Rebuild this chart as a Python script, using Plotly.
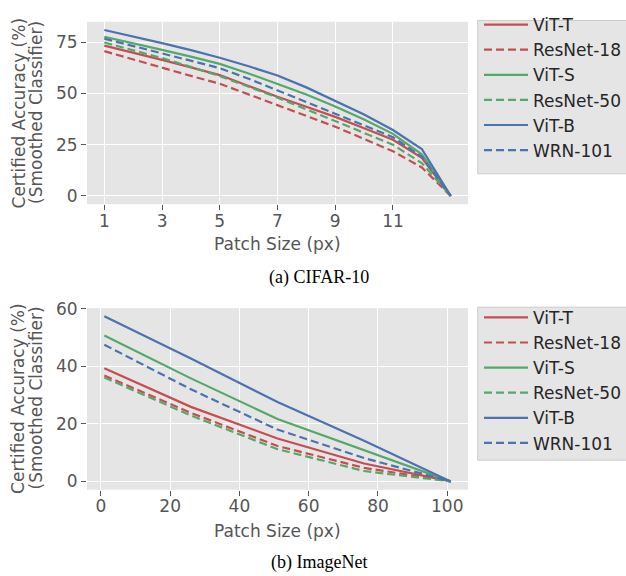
import plotly.graph_objects as go

# ---------------- data ----------------
models = ["ViT-T", "ResNet-18", "ViT-S", "ResNet-50", "ViT-B", "WRN-101"]
colors = ["#C44E52", "#C44E52", "#55A868", "#55A868", "#4C72B0", "#4C72B0"]
dashes = ["solid", "8px,4px", "solid", "8px,4px", "solid", "8px,4px"]

cifar_patch = [1, 2, 3, 4, 5, 6, 7, 8, 9, 10, 11, 12, 13]
cifar_vit_t = [73.4, 70.0, 66.4, 62.8, 59.0, 53.7, 48.4, 43.5, 38.6, 33.0, 27.4, 18.6, 0]
cifar_resnet18 = [70.7, 66.6, 62.4, 58.6, 54.8, 49.5, 44.1, 39.0, 33.8, 27.8, 21.8, 13.9, 0]
cifar_vit_s = [77.7, 74.6, 71.3, 68.0, 64.5, 59.8, 54.8, 49.5, 43.7, 37.3, 30.3, 20.3, 0]
cifar_resnet50 = [74.9, 71.2, 67.3, 63.0, 58.5, 53.3, 48.0, 42.3, 36.6, 30.8, 25.0, 16.0, 0]
cifar_vit_b = [81.0, 77.9, 74.6, 71.2, 67.5, 63.3, 58.8, 53.0, 46.5, 39.8, 32.2, 22.9, 0]
cifar_wrn101 = [76.8, 73.2, 69.5, 66.0, 62.4, 57.2, 51.6, 46.0, 40.1, 34.4, 28.7, 19.1, 0]

imnet_patch = [1, 26, 51, 76, 101]
imnet_vit_t = [39.3, 25.9, 14.9, 6.2, 0]
imnet_resnet18 = [36.8, 23.8, 12.3, 4.7, 0]
imnet_vit_s = [50.7, 35.8, 21.7, 10.9, 0]
imnet_resnet50 = [36.1, 22.9, 11.2, 3.6, 0]
imnet_vit_b = [57.4, 42.7, 27.6, 14.1, 0]
imnet_wrn101 = [47.5, 32.0, 18.0, 8.1, 0]

cifar_series = [cifar_vit_t, cifar_resnet18, cifar_vit_s, cifar_resnet50, cifar_vit_b, cifar_wrn101]
imnet_series = [imnet_vit_t, imnet_resnet18, imnet_vit_s, imnet_resnet50, imnet_vit_b, imnet_wrn101]

cifar_xticks = [1, 3, 5, 7, 9, 11]
cifar_yticks = [0, 25, 50, 75]
imnet_xticks = [0, 20, 40, 60, 80, 100]
imnet_yticks = [0, 20, 40, 60]

x_title = "Patch Size (px)"
y_title_1 = "Certified Accuracy (%)"
y_title_2 = "(Smoothed Classifier)"
captions = ["(a) CIFAR-10", "(b) ImageNet"]

# ---------------- figure ----------------
W, H = 626, 576
fig = go.Figure()

for name, c, d, ys in zip(models, colors, dashes, cifar_series):
    fig.add_trace(go.Scatter(x=cifar_patch, y=ys, mode="lines", name=name,
                             line=dict(color=c, width=2.2, dash=d),
                             xaxis="x", yaxis="y", legend="legend"))
for name, c, d, ys in zip(models, colors, dashes, imnet_series):
    fig.add_trace(go.Scatter(x=imnet_patch, y=ys, mode="lines", name=name,
                             line=dict(color=c, width=2.2, dash=d),
                             xaxis="x2", yaxis="y2", legend="legend2"))

def px_x(p):
    return p / W

def px_y(p):
    return 1 - p / H

tick_font = dict(family="DejaVu Sans", size=17, color="#555555")
common_axis = dict(showgrid=True, gridcolor="white", gridwidth=1.3, zeroline=False,
                   showline=False, ticks="outside", ticklen=5, tickwidth=1.2,
                   tickcolor="#555555", tickfont=tick_font)
x_extra = dict(ticklabelstandoff=-4)

xdom = [px_x(87), px_x(468)]
legend_common = dict(xanchor="left", yanchor="top", bgcolor="rgba(0,0,0,0)",
                     borderwidth=0, itemwidth=44,
                     font=dict(family="DejaVu Sans", size=17, color="#262626"))
fig.update_layout(
    width=W, height=H,
    margin=dict(l=0, r=0, t=0, b=0),
    paper_bgcolor="white",
    plot_bgcolor="#E5E5E5",
    xaxis=dict(domain=xdom, anchor="y", range=[0.4, 13.6], tickvals=cifar_xticks, **common_axis, **x_extra),
    yaxis=dict(domain=[px_y(199), px_y(13)], anchor="x", range=[-4.05, 85.05], tickvals=cifar_yticks, **common_axis),
    xaxis2=dict(domain=xdom, anchor="y2", range=[-4, 106], tickvals=imnet_xticks, **common_axis, **x_extra),
    yaxis2=dict(domain=[px_y(490), px_y(305)], anchor="x2", range=[-2.87, 60.2], tickvals=imnet_yticks, **common_axis),
    legend=dict(x=px_x(479), y=px_y(-2), **legend_common),
    legend2=dict(x=px_x(479), y=px_y(296.5), **legend_common),
    showlegend=True,
)

# legend frames
for top, bot in [(11.7, 168), (304, 460)]:
    fig.add_shape(type="rect", xref="paper", yref="paper",
                  x0=px_x(477.7), x1=px_x(640), y0=px_y(bot), y1=px_y(top),
                  fillcolor="#E5E5E5", line=dict(color="#CCCCCC", width=1), layer="below")

title_font = dict(family="DejaVu Sans", size=17, color="#555555")
cap_font = dict(family="Liberation Serif", size=18, color="black")
annos = []
for cy, xt_y in [(106, 240), (397, 532)]:
    annos.append(dict(text=y_title_1, x=px_x(18.5), y=px_y(cy), xref="paper", yref="paper",
                      textangle=-90, showarrow=False, font=title_font, xanchor="center", yanchor="middle"))
    annos.append(dict(text=y_title_2, x=px_x(36), y=px_y(cy), xref="paper", yref="paper",
                      textangle=-90, showarrow=False, font=title_font, xanchor="center", yanchor="middle"))
    annos.append(dict(text=x_title, x=px_x(277.5), y=px_y(xt_y), xref="paper", yref="paper",
                      showarrow=False, font=title_font, xanchor="center", yanchor="middle"))
annos.append(dict(text=captions[0], x=px_x(319), y=px_y(274), xref="paper", yref="paper", showarrow=False,
                  font=cap_font, xanchor="center", yanchor="middle"))
annos.append(dict(text=captions[1], x=px_x(319), y=px_y(564), xref="paper", yref="paper", showarrow=False,
                  font=cap_font, xanchor="center", yanchor="middle"))
fig.update_layout(annotations=annos)

fig.write_html("out.html", config={"displayModeBar": False},
               post_script="document.body.style.margin='0px';")
